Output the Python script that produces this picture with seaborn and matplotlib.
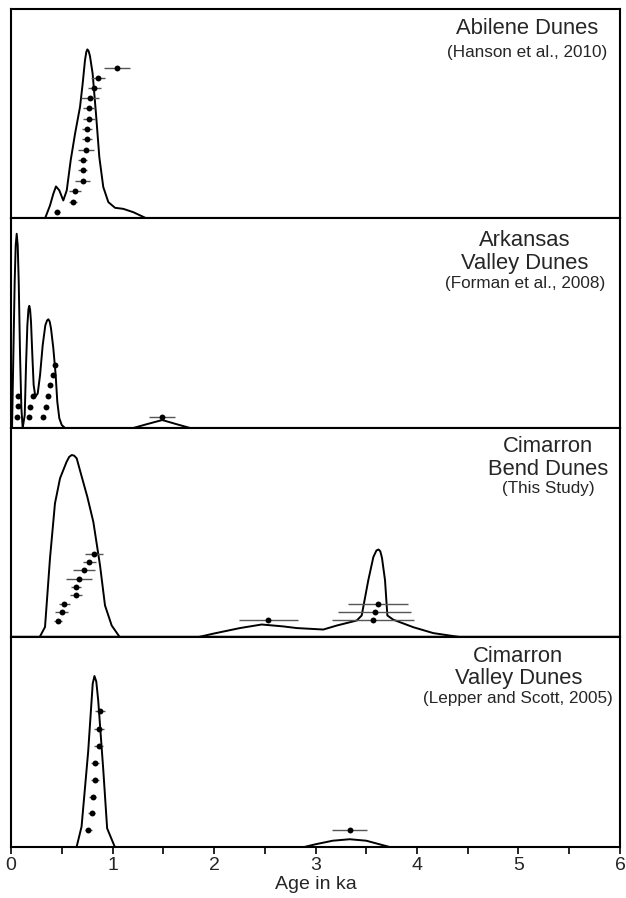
import numpy as np
import pandas as pd
import matplotlib
matplotlib.use("Agg")
import matplotlib.pyplot as plt
import seaborn as sns

# panel names
titles = ["Abilene Dunes", "Arkansas\nValley Dunes", "Cimarron\nBend Dunes", "Cimarron\nValley Dunes"]
sources = ["(Hanson et al., 2010)", "(Forman et al., 2008)", "(This Study)", "(Lepper and Scott, 2005)"]

# probability curves (age in ka, relative height in panel)
abilene_x = [0.335, 0.384, 0.417, 0.443, 0.476, 0.515, 0.549, 0.588, 0.631, 0.68, 0.706, 0.729, 0.742, 0.752,
             0.764, 0.778, 0.804, 0.837, 0.87, 0.909, 0.959, 1.025, 1.106, 1.205, 1.337]
abilene_y = [0.0, 0.062, 0.118, 0.153, 0.134, 0.086, 0.134, 0.278, 0.405, 0.533, 0.644, 0.756, 0.795, 0.807,
             0.8, 0.775, 0.692, 0.501, 0.293, 0.15, 0.078, 0.051, 0.046, 0.03, 0.0]

arkansas_x = [0.01, 0.023, 0.036, 0.046, 0.056, 0.066, 0.076, 0.089, 0.102, 0.115, 0.135, 0.148, 0.161,
              0.172, 0.18, 0.188, 0.197, 0.21, 0.223, 0.24, 0.263, 0.286, 0.312, 0.338, 0.355, 0.368, 0.381,
              0.394, 0.417, 0.44, 0.456, 0.476, 0.5, 0.532, 1.205, 1.337, 1.49, 1.632, 1.764]
arkansas_y = [0.0, 0.348, 0.697, 0.871, 0.927, 0.871, 0.697, 0.348, 0.094, 0.0, 0.062, 0.3, 0.49,
              0.568, 0.583, 0.565, 0.506, 0.348, 0.205, 0.149, 0.165, 0.252, 0.395, 0.49, 0.513, 0.519, 0.508,
              0.475, 0.38, 0.252, 0.125, 0.046, 0.014, 0.0, 0.0, 0.018, 0.038, 0.018, 0.0]

bend_x = [0.28, 0.335, 0.384, 0.433, 0.483, 0.548, 0.573, 0.598, 0.622, 0.647, 0.697, 0.752, 0.811, 0.877,
          0.926, 0.992, 1.074, 1.83, 1.99, 2.256, 2.47, 2.68, 2.815, 3.077, 3.209, 3.406, 3.455, 3.52,
          3.57, 3.6, 3.62, 3.638, 3.655, 3.685, 3.708, 3.766, 3.964, 4.16, 4.45]
bend_y = [0.0, 0.05, 0.378, 0.64, 0.76, 0.839, 0.862, 0.871, 0.868, 0.855, 0.767, 0.671, 0.552, 0.344,
          0.153, 0.057, 0.0, 0.0, 0.018, 0.045, 0.062, 0.053, 0.045, 0.038, 0.057, 0.081, 0.105, 0.273,
          0.384, 0.415, 0.42, 0.412, 0.38, 0.273, 0.105, 0.085, 0.049, 0.021, 0.0]

valley_x = [0.646, 0.695, 0.76, 0.805, 0.822, 0.84, 0.859, 0.908, 0.947, 1.023,
            2.89, 3.0, 3.17, 3.337, 3.5, 3.73]
valley_y = [0.0, 0.097, 0.454, 0.78, 0.816, 0.79, 0.7, 0.375, 0.089, 0.0,
            0.0, 0.013, 0.03, 0.037, 0.03, 0.0]

# individual ages with 1-sigma errors (ka), stacked by row height
abilene_age = [1.047, 0.857, 0.818, 0.778, 0.768, 0.765, 0.752, 0.752, 0.739, 0.706, 0.706, 0.706, 0.63, 0.614, 0.456]
abilene_err = [0.126, 0.066, 0.064, 0.09, 0.057, 0.06, 0.05, 0.05, 0.077, 0.045, 0.045, 0.077, 0.063, 0.04, 0.03]
abilene_row = [0.719, 0.671, 0.625, 0.573, 0.525, 0.474, 0.426, 0.378, 0.325, 0.278, 0.23, 0.178, 0.131, 0.078, 0.033]

arkansas_age = [0.072, 0.066, 0.062, 0.187, 0.177, 0.22, 0.318, 0.342, 0.368, 0.384, 0.417, 0.433, 1.49]
arkansas_err = [0.01, 0.01, 0.01, 0.01, 0.01, 0.01, 0.01, 0.01, 0.01, 0.01, 0.015, 0.015, 0.126]
arkansas_row = [0.152, 0.105, 0.054, 0.101, 0.054, 0.152, 0.054, 0.101, 0.152, 0.205, 0.252, 0.303, 0.051]

bend_age = [0.821, 0.772, 0.722, 0.67, 0.64, 0.64, 0.525, 0.499, 0.466, 2.535, 3.62, 3.583, 3.567]
bend_err = [0.09, 0.066, 0.11, 0.13, 0.05, 0.062, 0.057, 0.065, 0.04, 0.29, 0.295, 0.36, 0.4]
bend_row = [0.40, 0.36, 0.324, 0.279, 0.241, 0.203, 0.158, 0.12, 0.081, 0.083, 0.161, 0.121, 0.083]

valley_age = [0.875, 0.865, 0.865, 0.826, 0.826, 0.803, 0.793, 0.76, 3.337]
valley_err = [0.05, 0.05, 0.045, 0.04, 0.04, 0.035, 0.035, 0.035, 0.175]
valley_row = [0.648, 0.565, 0.482, 0.401, 0.322, 0.24, 0.16, 0.081, 0.081]

curves = [(abilene_x, abilene_y), (arkansas_x, arkansas_y), (bend_x, bend_y), (valley_x, valley_y)]
ages = [(abilene_age, abilene_err, abilene_row), (arkansas_age, arkansas_err, arkansas_row),
        (bend_age, bend_err, bend_row), (valley_age, valley_err, valley_row)]

# label placement (axes fraction)
title_x = [0.847, 0.844, 0.882, 0.833]
title_top = [0.955, 0.945, 0.96, 0.96]
source_top = [0.83, 0.725, 0.745, 0.745]

sns.set_style("ticks")
plt.rcParams["font.family"] = ["Liberation Sans", "DejaVu Sans"]

fig, axes = plt.subplots(4, 1, figsize=(6.26, 8.98), dpi=100, sharex=True)
fig.subplots_adjust(left=0.0176, right=0.9904, top=0.990, bottom=0.0568, hspace=0)

for i, ax in enumerate(axes):
    cx, cy = curves[i]
    sns.lineplot(x=cx, y=cy, sort=False, color="black", linewidth=1.4, ax=ax)
    age, err, row = ages[i]
    ax.hlines(row, np.array(age) - np.array(err), np.array(age) + np.array(err),
              color="#555555", linewidth=1.0, zorder=2)
    sns.scatterplot(x=age, y=row, color="black", s=18, edgecolor="black", linewidth=0, zorder=3, ax=ax)
    ax.text(title_x[i], title_top[i], titles[i], transform=ax.transAxes, ha="center", va="top",
            fontsize=15.8, linespacing=1.1)
    ax.text(title_x[i], source_top[i], sources[i], transform=ax.transAxes, ha="center", va="top",
            fontsize=12.3)
    ax.set_ylim(0, 1)
    ax.set_yticks([])
    for s in ax.spines.values():
        s.set_linewidth(1.5)
        s.set_color("black")
    ax.tick_params(axis="x", which="both", bottom=False, labelbottom=False)

ax = axes[-1]
ax.set_xlim(0, 6)
ax.set_xticks([0, 1, 2, 3, 4, 5, 6])
ax.set_xticks([0.5, 1.5, 2.5, 3.5, 4.5, 5.5], minor=True)
ax.tick_params(axis="x", which="both", bottom=True, direction="out", length=5, width=1.2, color="black")
ax.tick_params(axis="x", which="major", labelbottom=True, labelsize=14, pad=2)
ax.set_xlabel("Age in ka", fontsize=14, labelpad=2)
axes[2].spines["bottom"].set_linewidth(2.5)
axes[2].spines["bottom"].set_capstyle("butt")

fig.savefig("out.png", dpi=100)
